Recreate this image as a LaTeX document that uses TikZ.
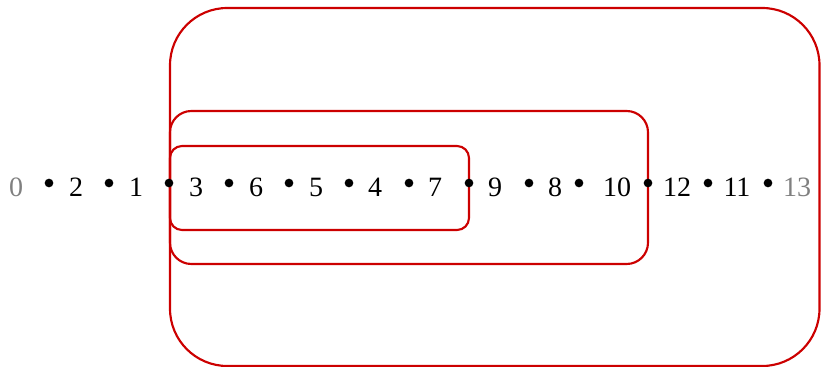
\documentclass[tikz,border=0pt]{standalone}
\usepackage{fontspec}
\setmainfont{Liberation Serif}
\definecolor{boxred}{HTML}{CC0000}
\begin{document}
\begin{tikzpicture}[x=0.75pt, y=-0.75pt,
  lab/.style={anchor=base, inner sep=0pt, font=\fontsize{21}{24}\selectfont},
  dot/.style={circle, fill=black, inner sep=0pt, minimum size=6.5pt},
  region/.style={draw=boxred, line width=1.6pt}]
  \useasboundingbox (0,0) rectangle (821,367);

  % Nested regions
  \draw[region, rounded corners=43pt] (170,8) rectangle (819.5,366);
  \draw[region, rounded corners=16pt] (170,111) rectangle (648,264);
  \draw[region, rounded corners=9pt] (170,146) rectangle (469,230);

  % Labels
  \foreach \x/\lab in {76/2,136/1,196/3,256/6,316/5,375/4,435/7,495/9,555/8,617/10,677/12,737/11} {
    \node[lab] (l\lab) at (\x,196) {\lab};
  }
  \node[lab, gray] (l0) at (16,196) {0};
  \node[lab, gray] (l13) at (797,196) {13};

  % Points
  \foreach \x [count=\i] in {49,109,169,229,289,349,409,469,529,579,648,708,768} {
    \node[dot] (d\i) at (\x,183) {};
  }
\end{tikzpicture}
\end{document}
